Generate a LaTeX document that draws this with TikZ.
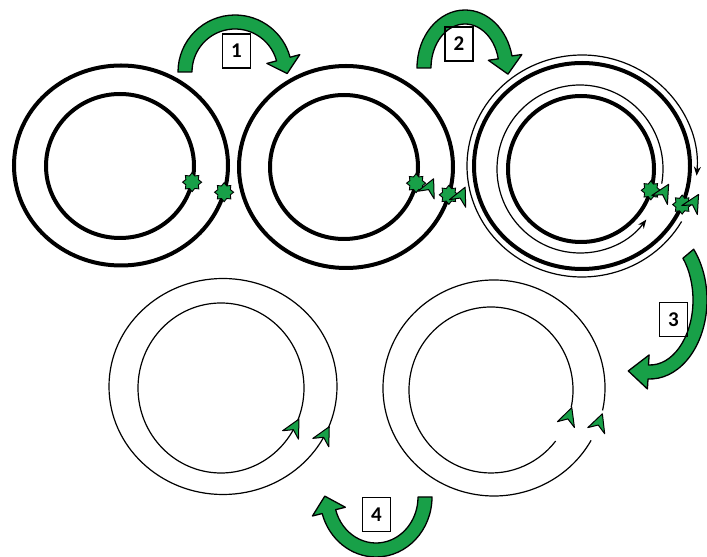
\documentclass[tikz,border=0pt]{standalone}
\usepackage{fontspec}
\setmainfont{Carlito}
\usetikzlibrary{calc, arrows.meta, shapes.geometric}

\definecolor{leafgreen}{RGB}{24,160,72}
\tikzset{
    thickring/.style={line width=4pt},
    thinring/.style={line width=1.2pt},
    bigarrow/.style={fill=leafgreen, draw=black, line width=1.3pt, line join=round},
    seal/.style={star, star points=8, star point ratio=1.4, minimum size=19pt, inner sep=0pt,
        fill=leafgreen, draw=black, line width=0.9pt},
    tipgreen/.style={fill=leafgreen, draw=black, line width=1pt, line join=round},
    numbox/.style={draw, line width=1.2pt, minimum width=28pt, minimum height=34pt, inner sep=0pt,
        font=\fontsize{21}{21}\selectfont\bfseries}
}

\begin{document}
\begin{tikzpicture}[x=1pt,y=1pt]
    \useasboundingbox (0,0) rectangle (707,557);

    % Centres of the rings
    \coordinate (c1o) at (121,391.5);
    \coordinate (c1i) at (120,391);
    \coordinate (c2o) at (346,390);
    \coordinate (c2i) at (344,390);
    \coordinate (c3o) at (582,391);
    \coordinate (c3i) at (581,388);
    \coordinate (c3t) at (580,388);
    \coordinate (c4o) at (223,170.5);
    \coordinate (c4i) at (221,169);
    \coordinate (c5o) at (494,169);
    \coordinate (c5i) at (491,167);

    % Top row: thick rings
    \draw[thickring] (c1o) ellipse [x radius=107, y radius=100];
    \draw[thickring] (c1i) ellipse [x radius=74, y radius=72];
    \draw[thickring] (c2o) ellipse [x radius=107, y radius=101];
    \draw[thickring] (c2i) ellipse [x radius=74, y radius=72];
    \draw[thickring] (c3o) ellipse [x radius=108, y radius=103];
    \draw[thickring] (c3i) ellipse [x radius=73, y radius=73];

    % Thin strands with black tips round the third ring
    \draw[thinring, -{Stealth[length=9pt,width=7pt]}] ($(c3o)+(330:115 and 111)$)
        arc[start angle=330, end angle=-5, x radius=115, y radius=111];
    \draw[thinring, -{Stealth[length=9pt,width=7pt]}] ($(c3t)+(-10:83 and 84)$)
        arc[start angle=-10, end angle=323, x radius=83, y radius=84];

    % Bottom row: thin rings
    \draw[thinring] (c4o) ellipse [x radius=114, y radius=108];
    \draw[thinring] (c4i) ellipse [x radius=83, y radius=85];
    \draw[thinring] ($(c5o)+(-12:111 and 108)$) arc[start angle=-12, end angle=331, x radius=111, y radius=108];
    \draw[thinring] ($(c5i)+(-12:82 and 83)$) arc[start angle=-12, end angle=322, x radius=82, y radius=83];

    % Green stars on the rings
    \foreach \c/\a/\rx/\ry [count=\i] in {c1i/-13/74/72, c1o/-15.5/107/100, c2i/-13/74/72,
        c2o/-16/107/101, c3i/-17/73/73, c3o/-22/108/103}{
        \node[seal] (star\i) at ($(\c)+(\a:{\rx} and {\ry})$) {};
    }

    % Small green arrow tips
    \foreach \c/\a/\rx/\ry/\rot in {c2i/-14/88/86/65, c2o/-15/119/113/65, c3t/-16/87/87/60,
        c3o/-19/118/114/60, c4i/-28/83/85/62, c4o/-27/114/108/62, c5i/-19/82/83/71, c5o/-19/111/108/70}{
        \filldraw[tipgreen, shift={($(\c)+(\a:{\rx} and {\ry})$)}, rotate=\rot]
            (10,0) -- (-8,9) -- (-2,0) -- (-8,-9) -- cycle;
    }

    % Big curved arrows between the steps
    \foreach \cx/\cy/\rx/\ry/\sa/\ea/\hl [count=\i] in {235/485/50/50/180/15/15, 465/489/41/51/180/12/17,
        650/257/50/72/40/-92/20, 376/60/49/53/0/-164/16}{
        \pgfmathsetmacro{\rxo}{\rx+7}
        \pgfmathsetmacro{\ryo}{\ry+7}
        \pgfmathsetmacro{\rxi}{\rx-7}
        \pgfmathsetmacro{\ryi}{\ry-7}
        \pgfmathsetmacro{\endx}{\cx+\rx*cos(\ea)}
        \pgfmathsetmacro{\endy}{\cy+\ry*sin(\ea)}
        \pgfmathsetmacro{\tlen}{veclen(\rx*sin(\ea),\ry*cos(\ea))}
        \pgfmathsetmacro{\tdx}{\rx*sin(\ea)/\tlen}
        \pgfmathsetmacro{\tdy}{-\ry*cos(\ea)/\tlen}
        \pgfmathsetmacro{\nlen}{veclen(\ry*cos(\ea),\rx*sin(\ea))}
        \pgfmathsetmacro{\ndx}{\ry*cos(\ea)/\nlen}
        \pgfmathsetmacro{\ndy}{\rx*sin(\ea)/\nlen}
        \coordinate (tip\i) at ({\endx+\hl*\tdx},{\endy+\hl*\tdy});
        \coordinate (wo\i) at ({\endx+17*\ndx},{\endy+17*\ndy});
        \coordinate (wi\i) at ({\endx-17*\ndx},{\endy-17*\ndy});
        \filldraw[bigarrow] ({\cx+\rxo*cos(\sa)},{\cy+\ryo*sin(\sa)})
            arc[start angle=\sa, end angle=\ea, x radius=\rxo, y radius=\ryo]
            -- (wo\i) -- (tip\i) -- (wi\i)
            -- ({\cx+\rxi*cos(\ea)},{\cy+\ryi*sin(\ea)})
            arc[start angle=\ea, end angle=\sa, x radius=\rxi, y radius=\ryi] -- cycle;
    }

    % Step numbers
    \node[numbox] (box1) at (236.5,506) {1};
    \node[numbox] (box2) at (459,513) {2};
    \node[numbox] (box3) at (673.5,237.5) {3};
    \node[numbox] (box4) at (376.5,42.5) {4};
\end{tikzpicture}
\end{document}
